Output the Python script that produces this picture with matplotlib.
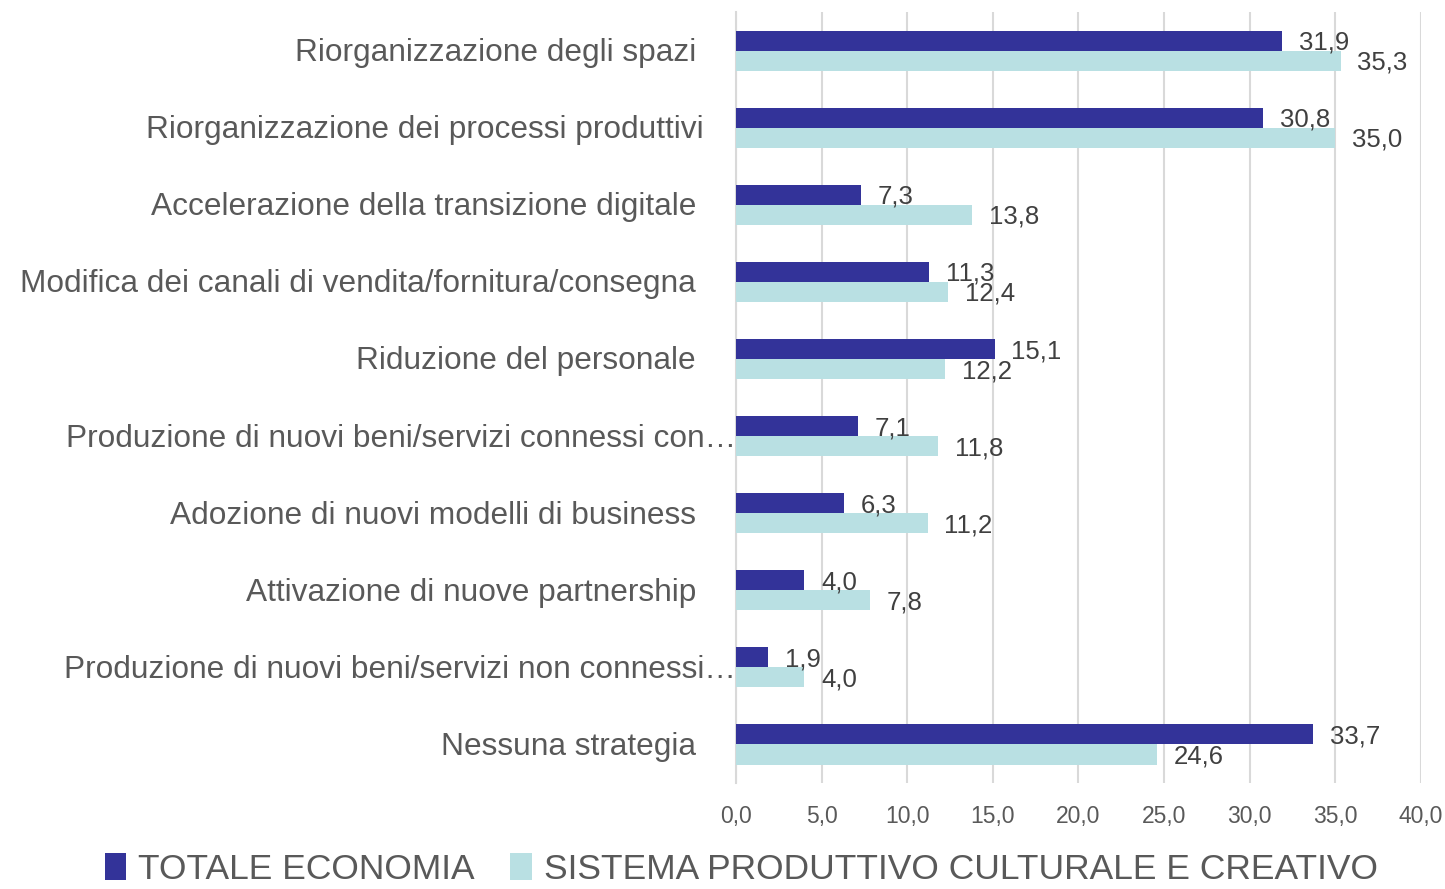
import matplotlib
matplotlib.use("Agg")
import matplotlib.pyplot as plt
import matplotlib.transforms as mtransforms
import numpy as np

categories = [
    "Riorganizzazione degli spazi",
    "Riorganizzazione dei processi produttivi",
    "Accelerazione della transizione digitale",
    "Modifica dei canali di vendita/fornitura/consegna",
    "Riduzione del personale",
    "Produzione di nuovi beni/servizi connessi con…",
    "Adozione di nuovi modelli di business",
    "Attivazione di nuove partnership",
    "Produzione di nuovi beni/servizi non connessi…",
    "Nessuna strategia",
]
totale = [31.9, 30.8, 7.3, 11.3, 15.1, 7.1, 6.3, 4.0, 1.9, 33.7]
sistema = [35.3, 35.0, 13.8, 12.4, 12.2, 11.8, 11.2, 7.8, 4.0, 24.6]
series_names = ["TOTALE ECONOMIA", "SISTEMA PRODUTTIVO CULTURALE E CREATIVO"]
xticks = [0, 5, 10, 15, 20, 25, 30, 35, 40]

plt.rcParams['font.family'] = ['Liberation Sans', 'DejaVu Sans']

dark = "#333399"
light = "#B9E0E3"

fig = plt.figure(figsize=(14.45, 8.89), dpi=100)
ax = fig.add_axes([0.5093, 0.1192, 0.4741, 0.8673])

y = np.arange(len(categories))
h = 0.26
b1 = ax.barh(y - h / 2, totale, height=h, color=dark, label=series_names[0], zorder=3)
b2 = ax.barh(y + h / 2, sistema, height=h, color=light, label=series_names[1], zorder=3)

fmt = lambda v: f"{v:.1f}".replace(".", ",")
for bars, vals in ((b1, totale), (b2, sistema)):
    for rect, v in zip(bars, vals):
        ax.annotate(fmt(v), (v, rect.get_y() + rect.get_height() / 2),
                    xytext=(12, -1.5), textcoords="offset points",
                    ha="left", va="center", fontsize=18.5, color="#404040")

ax.set_xlim(0, 40)
ax.set_ylim(len(categories) - 0.5, -0.5)
ax.set_xticks(xticks)
ax.set_xticklabels([fmt(t) for t in xticks], fontsize=16.5, color="#595959")
ax.set_yticks(y)
ax.set_yticklabels([])
ax.tick_params(axis="y", length=0)
ax.tick_params(axis="x", length=0, pad=16)

# category labels (right-aligned next to the axis; truncated ones reach the axis)
blend = mtransforms.blended_transform_factory(ax.transAxes, ax.transData)
for yi, cat in zip(y, categories):
    if cat.endswith("…"):
        dx = 0
    elif cat == "Riorganizzazione dei processi produttivi":
        dx = -32
    else:
        dx = -40
    off = mtransforms.ScaledTranslation(dx / 100, -0.025, fig.dpi_scale_trans)
    ax.text(0, yi, cat, transform=blend + off, ha="right", va="center",
            fontsize=22.8, color="#595959")

ax.xaxis.grid(True, color="#D9D9D9", linewidth=1.5, zorder=0)
for s in ["top", "right", "bottom"]:
    ax.spines[s].set_visible(False)
ax.spines["left"].set_color("#D9D9D9")
ax.spines["left"].set_linewidth(1.5)

fig.legend(handles=[b1, b2], labels=series_names, loc="center", bbox_to_anchor=(0.513, 0.022),
           ncol=2, frameon=False, fontsize=25.5, labelcolor="#595959",
           handlelength=0.6, handleheight=0.8, handletextpad=0.35, columnspacing=1.0,
           borderpad=0.1)

fig.savefig("out.png", dpi=100)
